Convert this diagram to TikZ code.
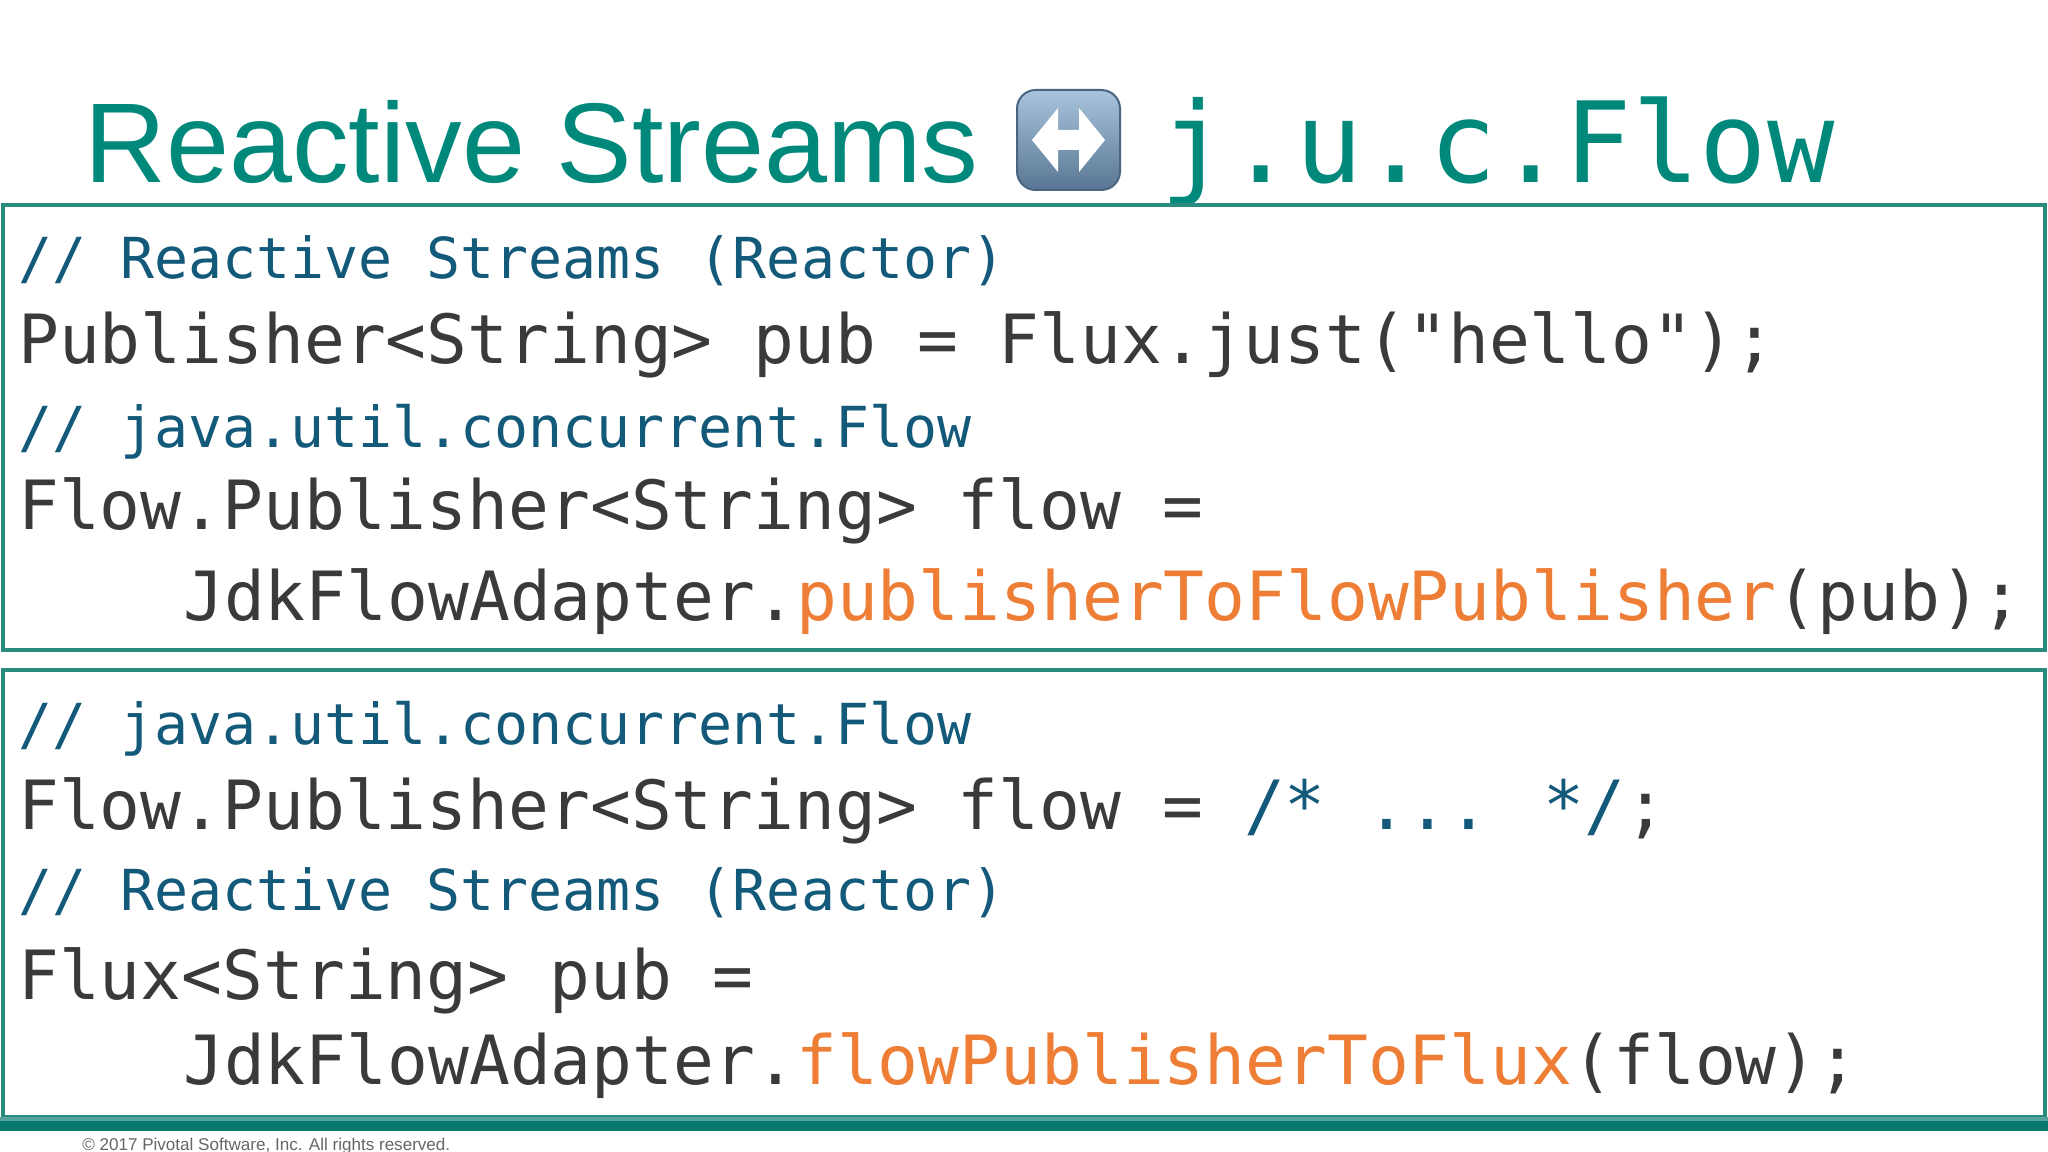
\documentclass[tikz,border=0pt]{standalone}
\usepackage{fontspec}
\setmainfont{Liberation Sans}
\newfontfamily\code{DejaVu Sans Mono}
\definecolor{teal1}{HTML}{2A8C80}
\definecolor{tealT}{HTML}{00897B}
\definecolor{cmt}{HTML}{12597A}
\definecolor{txt}{HTML}{3A3A3A}
\definecolor{orng}{HTML}{EE7D35}
\definecolor{bar}{HTML}{06776A}
\definecolor{emtop}{HTML}{A9C4DD}
\definecolor{embot}{HTML}{587693}
\definecolor{emdraw}{HTML}{4A6482}
\tikzset{
 cmtline/.style={anchor=base west,inner sep=0,font=\code\fontsize{42.4}{50}\selectfont,text=cmt},
 codeline/.style={anchor=base west,inner sep=0,font=\code\fontsize{50.9}{60}\selectfont,text=txt},
 frame/.style={draw=teal1,line width=3.5pt}
}
\begin{document}
\begin{tikzpicture}[x=0.75pt,y=-0.75pt]
\useasboundingbox (0,0) rectangle (2048,1152);
\fill[white] (0,0) rectangle (2048,1152);
\node[anchor=base west,inner sep=0,text=tealT,font=\fontsize{85}{90}\selectfont] (t1) at (84,183) {Reactive Streams};
\node[anchor=base west,inner sep=0,text=tealT,font=\code\fontsize{84}{90}\selectfont] (t2) at (1160,183) {j.u.c.Flow};
% emoji
\shade[top color=emtop,bottom color=embot,draw=emdraw,rounded corners=14pt,line width=1.5pt] (1017,90) rectangle (1120,190);
\fill[white] (1032,140) -- (1058,108) -- (1058,130) -- (1079,130) -- (1079,108) -- (1105,140) -- (1079,172) -- (1079,150) -- (1058,150) -- (1058,172) -- cycle;
% boxes
\draw[frame] (3,205) rectangle (2045,650);
\draw[frame] (3,670) rectangle (2045,1117);
\fill[teal1!80] (0,1117) rectangle (2048,1121);
\fill[bar] (0,1121) rectangle (2048,1131);
\node[cmtline] (a1) at (18,278) {// Reactive Streams (Reactor)};
\node[codeline] (a2) at (18,363) {Publisher<String> pub = Flux.just("hello");};
\node[cmtline] (a3) at (18,447) {// java.util.concurrent.Flow};
\node[codeline] (a4) at (18,529) {Flow.Publisher<String> flow =};
\node[codeline] (a5) at (183,620) {JdkFlowAdapter.\textcolor{orng}{publisherToFlowPublisher}(pub);};
\node[cmtline] (b1) at (18,744) {// java.util.concurrent.Flow};
\node[codeline] (b2) at (18,829) {Flow.Publisher<String> flow = \textcolor{cmt}{/* ... */};};
\node[cmtline] (b3) at (18,910) {// Reactive Streams (Reactor)};
\node[codeline] (b4) at (18,999) {Flux<String> pub =};
\node[codeline] (b5) at (183,1084) {JdkFlowAdapter.\textcolor{orng}{flowPublisherToFlux}(flow);};
\node[anchor=base west,inner sep=0,text=gray!80!black,font=\fontsize{12.8}{14}\selectfont] (f) at (82,1150) {\textcopyright{} 2017 Pivotal Software, Inc. All rights reserved.};
\end{tikzpicture}
\end{document}
